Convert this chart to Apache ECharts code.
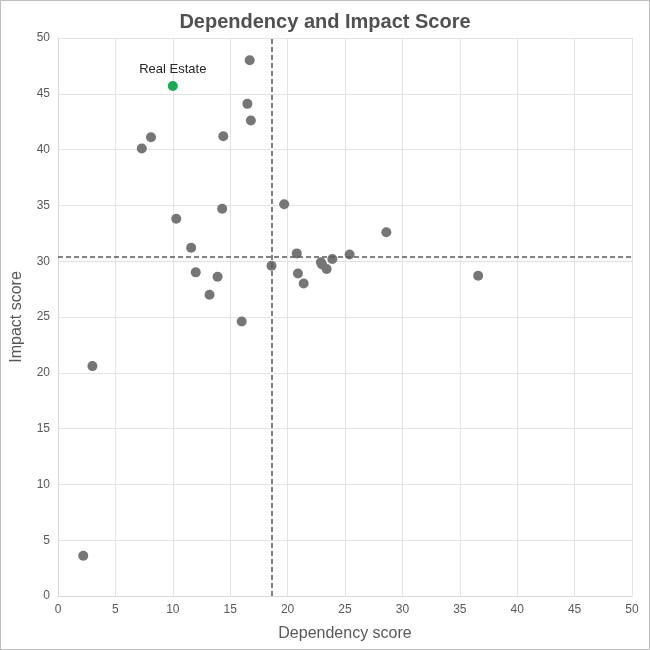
<!DOCTYPE html>
<html>
<head>
<meta charset="utf-8">
<script src="https://cdn.jsdelivr.net/npm/echarts@6/dist/echarts.min.js"></script>
<style>
html,body{margin:0;padding:0;background:#fff;}
#chart{width:648px;height:648px;border:1px solid #bfbfbf;}
</style>
</head>
<body>
<div id="chart"></div>
<script>
var chart = echarts.init(document.getElementById('chart'));
var data = [
    [2.2, 3.6], [3.0, 20.6], [7.3, 40.1], [8.1, 41.1], [10.3, 33.8],
    [11.6, 31.2], [12.0, 29.0], [13.2, 27.0], [13.9, 28.6], [14.3, 34.7],
    [14.4, 41.2], [16.0, 24.6], [16.5, 44.1], [16.7, 48.0], [16.8, 42.6],
    [18.6, 29.6], [19.7, 35.1], [20.8, 30.7], [20.9, 28.9], [21.4, 28.0],
    [22.9, 29.9], [23.0, 29.7], [23.4, 29.3], [23.9, 30.2], [25.4, 30.6],
    [28.6, 32.6], [36.6, 28.7]
];
var highlight = [[10.0, 45.7]];
var axisText = {color: '#595959', fontSize: 12, fontFamily: 'Liberation Sans'};
var option = {
    backgroundColor: '#fff',
    title: {
        text: 'Dependency and Impact Score',
        left: 'center',
        top: 6,
        textStyle: {fontSize: 20, fontWeight: 'bold', color: '#505050', fontFamily: 'Liberation Sans'}
    },
    grid: {left: 56, right: 17, top: 37, bottom: 53},
    xAxis: {
        type: 'value', min: 0, max: 50, interval: 5,
        name: 'Dependency score', nameLocation: 'middle', nameGap: 30,
        nameTextStyle: {fontSize: 16, color: '#595959', fontFamily: 'Liberation Sans'},
        axisLine: {lineStyle: {color: '#d9d9d9'}},
        axisTick: {show: false},
        axisLabel: axisText,
        splitLine: {lineStyle: {color: '#e3e3e3'}}
    },
    yAxis: {
        type: 'value', min: 0, max: 50, interval: 5,
        name: 'Impact score', nameLocation: 'middle', nameGap: 33,
        nameTextStyle: {fontSize: 16, color: '#595959', fontFamily: 'Liberation Sans'},
        axisLine: {show: true, lineStyle: {color: '#d9d9d9'}},
        axisTick: {show: false},
        axisLabel: axisText,
        splitLine: {lineStyle: {color: '#e3e3e3'}}
    },
    series: [{
        type: 'scatter',
        symbolSize: 10,
        itemStyle: {color: '#767676', opacity: 1},
        data: data,
        markLine: {
            silent: true,
            symbol: 'none',
            label: {show: false},
            lineStyle: {color: '#595959', type: [5, 3], width: 1.5},
            data: [{xAxis: 18.6}, {yAxis: 30.4}]
        }
    }, {
        type: 'scatter',
        symbolSize: 10,
        itemStyle: {color: '#1aaa55', opacity: 1},
        label: {show: true, position: 'top', formatter: 'Real Estate', color: '#262626', fontSize: 13, fontFamily: 'Liberation Sans'},
        data: highlight
    }]
};
chart.setOption(option);
</script>
</body>
</html>
